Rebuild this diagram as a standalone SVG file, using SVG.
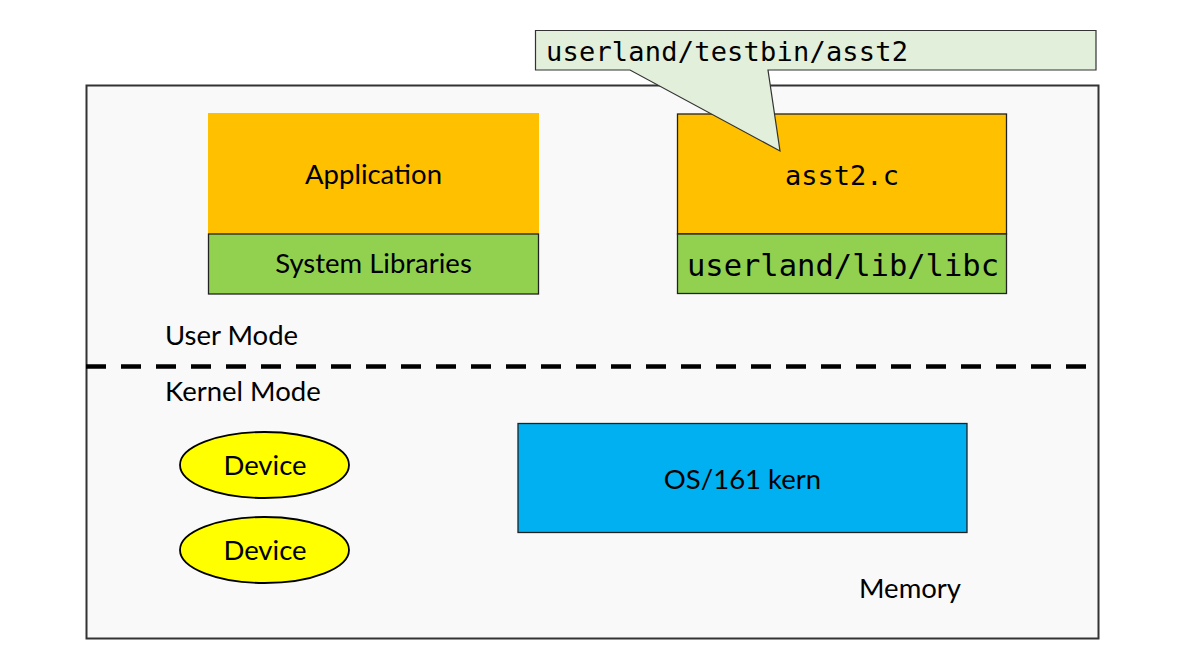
<svg xmlns="http://www.w3.org/2000/svg" width="1191" height="669" viewBox="0 0 1191 669">
<style>
.sans{font-family:Lato,"Open Sans","Liberation Sans",sans-serif;font-size:27.5px;fill:#000}
.mono{font-family:"DejaVu Sans Mono","Liberation Mono",monospace;fill:#000}
.box{stroke:#222;stroke-width:1.3}
</style>
<rect width="1191" height="669" fill="#ffffff"/>
<g id="memory">
<rect x="86.5" y="85.5" width="1012" height="553" fill="#f9f9f9" stroke="#333" stroke-width="2"/>
<text class="sans" x="859" y="598">Memory</text>
</g>
<g id="application">
<rect x="208" y="113" width="331" height="121" fill="#ffc000"/>
<text class="sans" x="373.5" y="184" text-anchor="middle">Application</text>
</g>
<g id="system-libraries">
<rect class="box" x="208.5" y="234" width="330" height="60" fill="#92d050"/>
<text class="sans" x="373.5" y="273" text-anchor="middle">System Libraries</text>
</g>
<g id="asst2">
<rect class="box" x="677.5" y="114" width="329" height="120" fill="#ffc000"/>
<text class="mono" x="842" y="185" font-size="27" text-anchor="middle">asst2.c</text>
</g>
<g id="libc">
<rect class="box" x="677.5" y="234" width="329" height="59.5" fill="#92d050"/>
<text class="mono" x="843" y="276" font-size="30.5" text-anchor="middle">userland/lib/libc</text>
</g>
<g id="callout">
<path d="M535.5 30.5 H1096 V70 H768 L780 151 L630 70 H535.5 Z" fill="#e2efda" stroke="#333" stroke-width="1.2"/>
<text class="mono" x="546" y="61" font-size="27" textLength="362">userland/testbin/asst2</text>
</g>
<g id="connectors">
<line x1="86" y1="366.5" x2="1087" y2="366.5" stroke="#000" stroke-width="4.5" stroke-dasharray="20 15"/>
</g>
<g id="user-mode"><text class="sans" x="165" y="345">User Mode</text></g>
<g id="kernel-mode"><text class="sans" x="165" y="401">Kernel Mode</text></g>
<g id="device1">
<ellipse cx="264.5" cy="465" rx="84.5" ry="33" fill="#ffff00" stroke="#000" stroke-width="1.8"/>
<text class="sans" x="265" y="475" text-anchor="middle">Device</text>
</g>
<g id="device2">
<ellipse cx="264.5" cy="550" rx="84.5" ry="33" fill="#ffff00" stroke="#000" stroke-width="1.8"/>
<text class="sans" x="265" y="560" text-anchor="middle">Device</text>
</g>
<g id="kern">
<rect class="box" x="518" y="423.5" width="449" height="109" fill="#00b0f0"/>
<text class="sans" x="742.5" y="489" text-anchor="middle">OS/161 kern</text>
</g>
</svg>
